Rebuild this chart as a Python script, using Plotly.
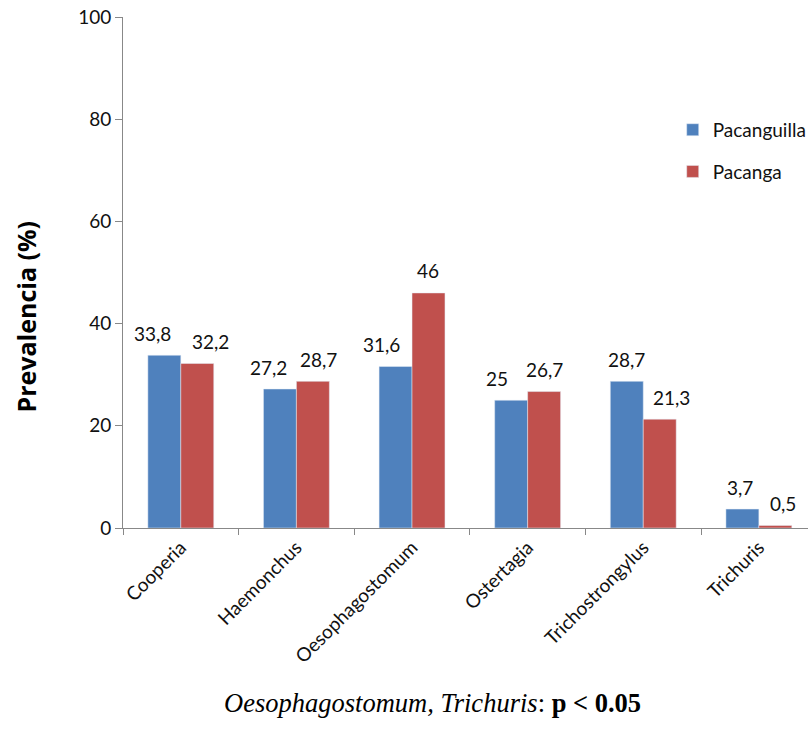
import plotly.graph_objects as go

categories = ["Cooperia", "Haemonchus", "Oesophagostomum", "Ostertagia", "Trichostrongylus", "Trichuris"]
pacanguilla = [33.8, 27.2, 31.6, 25.0, 28.7, 3.7]
pacanga = [32.2, 28.7, 46.0, 26.7, 21.3, 0.5]
pacanguilla_labels = ["33,8", "27,2", "31,6", "25", "28,7", "3,7"]
pacanga_labels = ["32,2", "28,7", "46", "26,7", "21,3", "0,5"]
y_ticks = [0, 20, 40, 60, 80, 100]

# small horizontal nudges of value labels (px), as in the original
dx_blue = [-11.5, -11, -14, -14.5, 0, -2]
dx_red = [13, 5.5, -1, 0, 11.5, 8]

BLUE = "#4F81BD"
RED = "#C0504D"
FONT = "Lato, 'Open Sans', sans-serif"

fig = go.Figure()
fig.add_trace(go.Bar(x=categories, y=pacanguilla, name="Pacanguilla", marker_color=BLUE,
                     legendgroup="a"))
fig.add_trace(go.Bar(x=categories, y=pacanga, name="Pacanga", marker_color=RED,
                     legendgroup="b"))

annotations = []
for i, c in enumerate(categories):
    annotations.append(dict(x=c, y=pacanguilla[i], text=pacanguilla_labels[i], showarrow=False,
                            xshift=-16.5 + dx_blue[i], yshift=22, yanchor="middle",
                            font=dict(size=19, color="#111", family=FONT)))
    annotations.append(dict(x=c, y=pacanga[i], text=pacanga_labels[i], showarrow=False,
                            xshift=16.5 + dx_red[i], yshift=22, yanchor="middle",
                            font=dict(size=19, color="#111", family=FONT)))

annotations.append(dict(xref="paper", yref="paper", x=(25 - 122.5) / 685.5, y=0.413,
                        text="<b>Prevalencia (%)</b>",
                        textangle=-90, showarrow=False, xanchor="center", yanchor="middle",
                        font=dict(size=25, color="#000", family="'Open Sans', sans-serif")))
annotations.append(dict(xref="paper", yref="paper", x=(432 - 122.5) / 685.5, y=(528 - 703) / 510.4,
                        text="<i>Oesophagostomum, Trichuris</i>: <b>p &lt; 0.05</b>",
                        showarrow=False, xanchor="center", yanchor="middle",
                        font=dict(size=26.5, color="#000", family="'Liberation Serif', 'Times New Roman', serif")))

fig.update_layout(
    width=808, height=729,
    margin=dict(l=122.5, r=0, t=17, b=201, autoexpand=False),
    paper_bgcolor="white", plot_bgcolor="white",
    barmode="group", bargap=0.43, bargroupgap=0,
    showlegend=True,
    legend=dict(x=0.8025, y=0.738, xanchor="left", yanchor="middle",
                font=dict(size=19, color="#111", family=FONT),
                tracegroupgap=14, traceorder="grouped", bgcolor="rgba(0,0,0,0)"),
    annotations=annotations,
    xaxis=dict(range=[-0.5, 5.425], showline=True, linecolor="#888", linewidth=1,
               ticks="outside", tickson="boundaries", ticklen=6, tickcolor="#888",
               tickangle=-45, tickfont=dict(size=19, color="#111", family=FONT),
               showgrid=False, zeroline=False, automargin=False),
    yaxis=dict(range=[0, 100], tickvals=y_ticks, showline=True, linecolor="#888", linewidth=1,
               ticks="outside", ticklen=7, tickcolor="#888",
               tickfont=dict(size=19, color="#111", family=FONT),
               showgrid=False, zeroline=False, automargin=False),
)

fig.write_html("out.html")
